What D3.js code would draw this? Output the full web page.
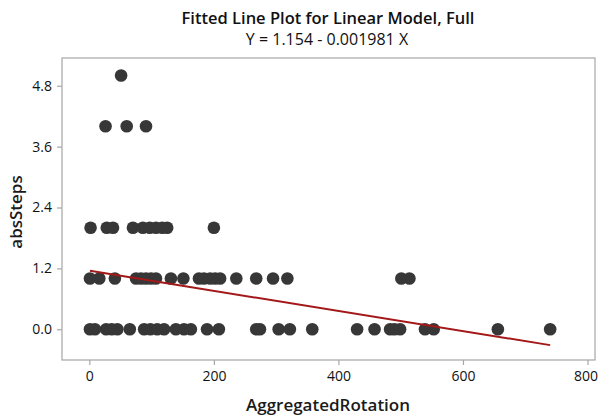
<!DOCTYPE html>
<html>
<head>
<meta charset="utf-8">
<script src="https://cdn.jsdelivr.net/npm/d3@7/dist/d3.min.js"></script>
<style>
  html, body { margin: 0; padding: 0; background: #fff; }
  svg { display: block; font-family: "Open Sans", "Noto Sans", sans-serif; }
</style>
</head>
<body>
<svg id="chart" width="598" height="418"></svg>
<script>
// Observations: AggregatedRotation (x) against absSteps (y), grouped by step count
const steps0 = [1, 9, 27, 36, 45, 65, 88, 98, 109, 120, 139, 152, 163, 189, 208,
                268, 274, 304, 322, 358, 430, 458, 483, 490, 499, 539, 553, 656, 740];
const steps1 = [1, 16, 41, 75, 83, 91, 99, 107, 131, 151, 176, 184, 194, 202, 210,
                236, 268, 295, 318, 501, 514];
const steps2 = [2, 28, 38, 70, 86, 97, 107, 117, 125, 200];
const steps4 = [26, 60, 91];
const steps5 = [51];

const xTicks = [0, 200, 400, 600, 800];
const yTicks = [0.0, 1.2, 2.4, 3.6, 4.8];

// Regression fit: Y = 1.154 - 0.001981 X
const intercept = 1.154;
const slope = -0.001981;

const points = [
  ...steps0.map(x => ({ x, y: 0 })),
  ...steps1.map(x => ({ x, y: 1 })),
  ...steps2.map(x => ({ x, y: 2 })),
  ...steps4.map(x => ({ x, y: 4 })),
  ...steps5.map(x => ({ x, y: 5 }))
];

const svg = d3.select("#chart");
const frame = { left: 62, right: 595, top: 58, bottom: 360 };

const x = d3.scaleLinear().domain([-43.9, 812]).range([frame.left, frame.right]);
const y = d3.scaleLinear().domain([-0.605, 5.346]).range([frame.bottom, frame.top]);

// Titles
svg.append("text")
  .attr("x", 328).attr("y", 24)
  .attr("text-anchor", "middle")
  .attr("font-size", 16.5).attr("font-weight", 600).attr("fill", "#111")
  .text("Fitted Line Plot for Linear Model, Full");
svg.append("text")
  .attr("x", 327).attr("y", 45)
  .attr("text-anchor", "middle")
  .attr("font-size", 16).attr("fill", "#111")
  .text("Y = 1.154 - 0.001981 X");

// Plot frame
svg.append("rect")
  .attr("x", frame.left).attr("y", frame.top)
  .attr("width", frame.right - frame.left).attr("height", frame.bottom - frame.top)
  .attr("fill", "none").attr("stroke", "#a6a6a6").attr("stroke-width", 1.2);

// Axes
const xAxis = svg.append("g")
  .attr("transform", `translate(0,${frame.bottom})`)
  .call(d3.axisBottom(x).tickValues(xTicks).tickFormat(d3.format("d")).tickSize(5).tickPadding(6));
const yAxis = svg.append("g")
  .attr("transform", `translate(${frame.left},0)`)
  .call(d3.axisLeft(y).tickValues(yTicks).tickFormat(d3.format(".1f")).tickSize(5).tickPadding(5));

[xAxis, yAxis].forEach(g => {
  g.select(".domain").remove();
  g.selectAll(".tick line").attr("stroke", "#a6a6a6").attr("stroke-width", 1.2);
  g.selectAll(".tick text").attr("font-size", 14).attr("fill", "#111")
    .attr("font-family", "'Open Sans', 'Noto Sans', sans-serif");
});
// keep the last x label inside the window edge
xAxis.selectAll(".tick text").filter(d => d === 800).attr("dx", -2);

// Axis titles
svg.append("text")
  .attr("x", 328).attr("y", 411)
  .attr("text-anchor", "middle")
  .attr("font-size", 17).attr("font-weight", 600).attr("fill", "#1a1a1a")
  .text("AggregatedRotation");
svg.append("text")
  .attr("transform", `translate(22,${(frame.top + frame.bottom) / 2 + 3}) rotate(-90)`)
  .attr("text-anchor", "middle")
  .attr("font-size", 17).attr("font-weight", 600).attr("fill", "#1a1a1a")
  .text("absSteps");

// Data points
svg.append("g")
  .selectAll("circle")
  .data(points)
  .join("circle")
  .attr("cx", d => x(d.x))
  .attr("cy", d => y(d.y))
  .attr("r", 6.3)
  .attr("fill", "#373737");

// Fitted line across the observed range
const xMin = d3.min(points, d => d.x);
const xMax = d3.max(points, d => d.x);
const line = d3.line().x(d => x(d)).y(d => y(intercept + slope * d));
svg.append("path")
  .attr("d", line([xMin, xMax]))
  .attr("fill", "none")
  .attr("stroke", "#a31818")
  .attr("stroke-width", 2);
</script>
</body>
</html>
